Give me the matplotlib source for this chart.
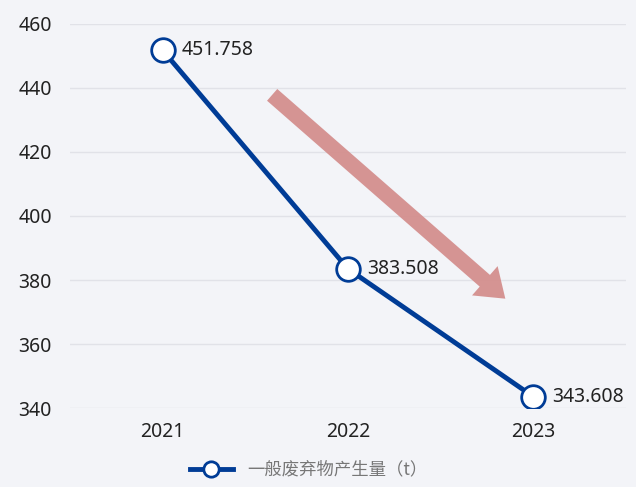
import matplotlib.pyplot as plt

plt.rcParams['font.family'] = ['Noto Sans', 'Noto Sans CJK SC', 'DejaVu Sans']

""" data """
years = ['2021', '2022', '2023']
waste = [451.758, 383.508, 343.608]
series_name = '一般废弃物产生量（t）'
y_ticks = [340, 360, 380, 400, 420, 440, 460]

""" style """
bg = '#f3f4f8'
line_color = '#003c96'
arrow_color = '#d48f8e'

fig = plt.figure(figsize=(6.36, 4.87), dpi=100, facecolor=bg)
ax = fig.add_axes([0.110, 0.162, 0.874, 0.789], facecolor=bg)

x = list(range(len(years)))
ax.plot(x, waste, color=line_color, linewidth=3.5, marker='o', markersize=17,
        markerfacecolor='white', markeredgecolor=line_color, markeredgewidth=2,
        label=series_name, zorder=3)

## value labels to the right of each point
for xi, v in zip(x, waste):
    ax.annotate(f'{v:.3f}', (xi, v), xytext=(14, 0), textcoords='offset points',
                ha='left', va='center', fontsize=14, color='#222222')

## trend arrow (decoration, placed in axes fraction)
ax.annotate('', xy=(0.787, 0.28), xytext=(0.36, 0.82),
            xycoords='axes fraction', textcoords='axes fraction',
            arrowprops=dict(arrowstyle='simple,head_length=1.4,head_width=2.0,tail_width=0.8',
                            mutation_scale=14, color=arrow_color, alpha=0.95, lw=0))

## axes settings
ax.set_xlim(-0.5, len(years) - 0.5)
ax.set_ylim(340, 460)
ax.set_xticks(x)
ax.set_xticklabels(years)
ax.set_yticks(y_ticks)
ax.tick_params(axis='both', length=0, labelsize=14, colors='#222222')
ax.tick_params(axis='x', pad=10)
ax.tick_params(axis='y', pad=13)
ax.grid(axis='y', color='#e1e2e8', linewidth=1)
ax.set_axisbelow(True)
for s in ax.spines.values():
    s.set_visible(False)

leg = fig.legend(loc='lower center', bbox_to_anchor=(0.485, -0.015), frameon=False,
                 prop={'family': ['Noto Sans CJK SC', 'DejaVu Sans'], 'size': 12.5},
                 handlelength=2.5, markerscale=0.65)
for t in leg.get_texts():
    t.set_color('#777777')

fig.savefig('out.png', dpi=100, facecolor=bg)
